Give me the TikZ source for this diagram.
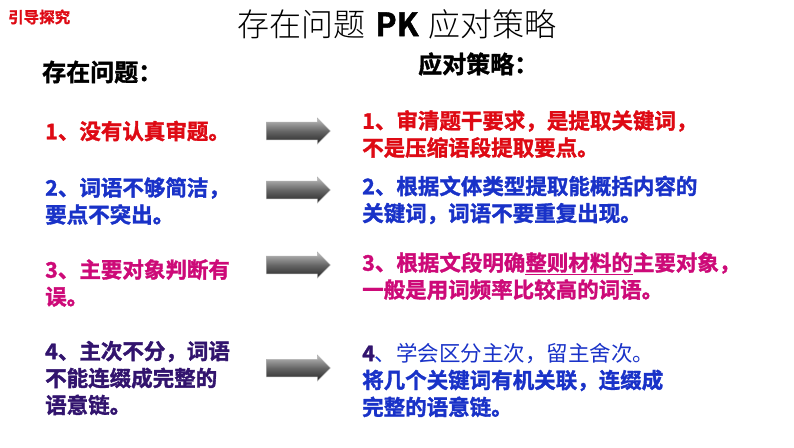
\documentclass[tikz,border=0pt]{standalone}
\usepackage{fontspec}
\usetikzlibrary{shapes.arrows}
\newfontfamily\cjkb[FakeBold=1.5]{Noto Sans CJK SC Bold}
\newfontfamily\cjkr{Noto Sans CJK SC}
\newfontfamily\cjkl{Noto Sans CJK SC Light}
\definecolor{myred}{RGB}{222,10,20}
\definecolor{myblue}{RGB}{25,50,200}
\definecolor{mymag}{RGB}{205,10,120}
\definecolor{mynavy}{RGB}{50,20,110}
\tikzset{
  item/.style={anchor=west,align=left,inner sep=0pt,font=\cjkb\fontsize{21.5}{27}\selectfont},
  arr/.style={single arrow,minimum height=64pt,minimum width=26pt,single arrow head extend=4pt,
    inner xsep=0pt,inner ysep=8pt,top color=gray!50,bottom color=black!85,middle color=gray!80!black,draw=gray!60,line width=0.5pt}
}
\begin{document}
\begin{tikzpicture}[x=1pt,y=-1pt]
\useasboundingbox (0,0) rectangle (794,447);
\fill[white] (0,0) rectangle (794,447);
\node[anchor=west,inner sep=0pt,text=myred,font=\cjkb\fontsize{15.5}{16}\selectfont] (tag) at (8,17) {引导探究};
\node[inner sep=0pt,font=\fontsize{32}{32}\selectfont] (title) at (397,24) {{\cjkl 存在问题} {\cjkb PK} {\cjkl 应对策略}};
\node[anchor=west,inner sep=0pt,font=\cjkb\fontsize{24}{24}\selectfont] (hl) at (42,72) {存在问题：};
\node[anchor=west,inner sep=0pt,font=\cjkb\fontsize{24}{24}\selectfont] (hr) at (418,64) {应对策略：};
\node[item,text=myred] (l1) at (45,131) {1、没有认真审题。};
\node[item,text=myblue] (l2) at (45,201) {2、词语不够简洁，\\要点不突出。};
\node[item,text=mymag] (l3) at (45,283) {3、主要对象判断有\\误。};
\node[item,text=mynavy] (l4) at (45,378) {4、主次不分，词语\\不能连缀成完整的\\语意链。};
\node[item,text=myred] (r1) at (362,134) {1、审清题干要求，是提取关键词，\\不是压缩语段提取要点。};
\node[item,text=myblue] (r2) at (362,200) {2、根据文体类型提取能概括内容的\\关键词，词语不要重复出现。};
\node[item,text=mymag] (r3) at (362,276) {3、根据文段明确\underline{整则材料的}主要对象，\\一般是用词频率比较高的词语。};
\node[item,text=myblue] (r4) at (362,380) {{\color{mynavy}4}{\cjkr 、学会区分主次，留主舍次。}\\将几个关键词有机关联，连缀成\\完整的语意链。};
\node[arr] (a1) at (294,131) {};
\node[arr] (a2) at (294,190) {};
\node[arr] (a3) at (294,265) {};
\node[arr] (a4) at (294,368) {};
\end{tikzpicture}
\end{document}
